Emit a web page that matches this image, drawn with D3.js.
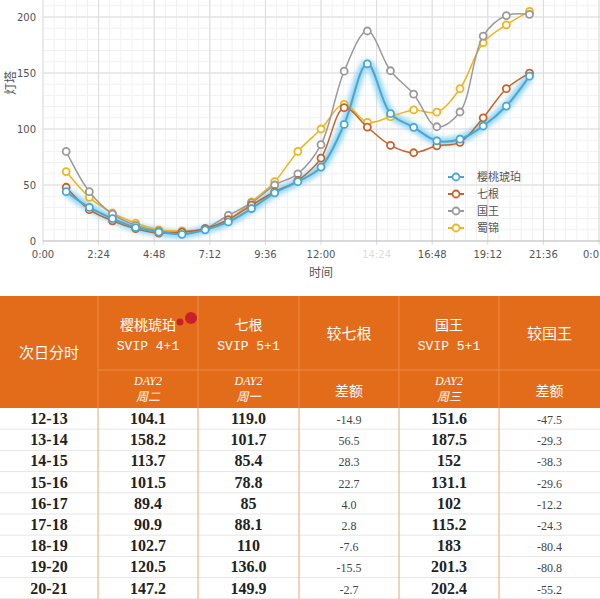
<!DOCTYPE html>
<html><head><meta charset="utf-8">
<script src="https://cdn.jsdelivr.net/npm/d3@7"></script>
<style>
body{margin:0;background:#fff;font-family:"Noto Sans CJK SC","DejaVu Sans",sans-serif}
</style></head>
<body><svg id="c" width="600" height="599"></svg>
<script>
const hours = d3.range(1, 22);
const cherry = [44,30,20,12,8,6,10,17,29,43,53,66,104.1,158.2,113.7,101.5,89.4,90.9,102.7,120.5,147.2];
const qigen  = [48,28,18,11,7,8,11,19,32,44,54,74,119,101.7,85.4,78.8,85,88.1,110,136,149.9];
const guowang= [80,44,24,14,9,8,11,23,34,50,60,86,151.6,187.5,152,131.1,102,115.2,183,201.3,202.4];
const shujin = [62,39,25,16,10,9,11,19,35,53,80,100,122,106,111,117,115,136,177,193,205];
const seriesNames = ['樱桃琥珀','七根','国王','蜀锦'];
const seriesColors = ['#4aa8d0','#c8622a','#9a9a9a','#f0b41c'];
const xTicks = ['0:00','2:24','4:48','7:12','9:36','12:00','14:24','16:48','19:12','21:36','0:0'];

const tableRows = ['12-13','13-14','14-15','15-16','16-17','17-18','18-19','19-20','20-21'];
const colCherry = ['104.1','158.2','113.7','101.5','89.4','90.9','102.7','120.5','147.2'];
const colQigen  = ['119.0','101.7','85.4','78.8','85','88.1','110','136.0','149.9'];
const colDiffQ  = ['-14.9','56.5','28.3','22.7','4.0','2.8','-7.6','-15.5','-2.7'];
const colGuowang= ['151.6','187.5','152','131.1','102','115.2','183','201.3','202.4'];
const colDiffG  = ['-47.5','-29.3','-38.3','-29.6','-12.2','-24.3','-80.4','-80.8','-55.2'];

const svg = d3.select('#c');
const x = d3.scaleLinear().domain([0, 24]).range([43, 599]);
const y = d3.scaleLinear().domain([0, 200]).range([241, 17]);

// 网格
const g = svg.append('g');
g.selectAll('.mx').data(d3.range(0, 24.01, 0.48)).join('line')
  .attr('x1', d => x(d)).attr('x2', d => x(d)).attr('y1', 0).attr('y2', 241)
  .attr('stroke', '#f1f1f1');
g.selectAll('.my').data(d3.range(0, 221, 10)).join('line')
  .attr('x1', 43).attr('x2', 600).attr('y1', d => y(d)).attr('y2', d => y(d))
  .attr('stroke', '#f1f1f1');
g.selectAll('.gx').data(d3.range(0, 24.01, 2.4)).join('line')
  .attr('x1', d => x(d)).attr('x2', d => x(d)).attr('y1', 0).attr('y2', 245)
  .attr('stroke', '#dcdcdc');
g.selectAll('.gy').data([50,100,150,200]).join('line')
  .attr('x1', 43).attr('x2', 600).attr('y1', d => y(d)).attr('y2', d => y(d))
  .attr('stroke', '#dcdcdc');
g.append('line').attr('x1', 43).attr('x2', 600).attr('y1', y(0)).attr('y2', y(0)).attr('stroke', '#bbb');

svg.selectAll('.yl').data([0,50,100,150,200]).join('text')
  .attr('x', 36).attr('y', d => y(d) + 4).attr('text-anchor', 'end')
  .attr('font-size', 10).attr('fill', '#555').attr('font-family', 'DejaVu Sans').text(d => d);
svg.selectAll('.xl').data(xTicks).join('text')
  .attr('x', (d, i) => i === 10 ? 599 : x(i * 2.4)).attr('y', 258)
  .attr('text-anchor', (d, i) => i === 10 ? 'end' : 'middle')
  .attr('font-size', 10).attr('fill', '#555').attr('font-family', 'DejaVu Sans').text(d => d)
  .filter((d, i) => i === 6).attr('fill', '#ddd');
svg.append('text').attr('x', 321).attr('y', 277).attr('text-anchor', 'middle')
  .attr('font-size', 12).attr('fill', '#555').text('时间');
svg.append('text').attr('transform', 'translate(15,83) rotate(-90)').attr('text-anchor', 'middle')
  .attr('font-size', 12).attr('fill', '#555').text('灯塔');

const defs = svg.append('defs');
defs.append('filter').attr('id', 'glow').append('feGaussianBlur').attr('stdDeviation', 2.5);

const line = d3.line().x((d, i) => x(hours[i])).y(d => y(d)).curve(d3.curveCatmullRom.alpha(0.5));
const all = [cherry, qigen, guowang, shujin];
svg.append('path').attr('d', line(cherry)).attr('fill', 'none')
  .attr('stroke', '#8fd3f5').attr('stroke-width', 8).attr('filter', 'url(#glow)');
[3, 2, 1, 0].forEach(k => {
  const s = svg.append('g');
  s.append('path').attr('d', line(all[k])).attr('fill', 'none')
    .attr('stroke', seriesColors[k]).attr('stroke-width', k === 0 ? 2 : 1.5);
  s.selectAll('circle').data(all[k]).join('circle')
    .attr('cx', (d, i) => x(hours[i])).attr('cy', d => y(d)).attr('r', 3.5)
    .attr('fill', '#fff').attr('stroke', seriesColors[k]).attr('stroke-width', 1.8);
});

// 图例
seriesNames.forEach((n, i) => {
  const ly = 177 + i * 17;
  svg.append('line').attr('x1', 448).attr('x2', 464).attr('y1', ly).attr('y2', ly)
    .attr('stroke', seriesColors[i]).attr('stroke-width', 2);
  svg.append('circle').attr('cx', 456).attr('cy', ly).attr('r', 3.5)
    .attr('fill', '#fff').attr('stroke', seriesColors[i]).attr('stroke-width', 1.8);
  svg.append('text').attr('x', 477).attr('y', ly + 4).attr('font-size', 11).attr('fill', '#555').text(n);
});

// 表格
const orange = '#e36c1b';
const colX = [0, 98, 198, 299, 399, 499, 600];
const tTop = 296, hMid = 370, hBot = 408, rowH = 21.2;
const tb = svg.append('g').attr('font-family', '"Noto Sans CJK SC",serif');
tb.append('rect').attr('x', 0).attr('y', tTop).attr('width', 600).attr('height', hBot - tTop).attr('fill', orange);
tb.append('line').attr('x1', 98).attr('x2', 600).attr('y1', hMid).attr('y2', hMid).attr('stroke', '#ee8a45');
colX.slice(1, 6).forEach(cx => tb.append('line').attr('x1', cx).attr('x2', cx).attr('y1', tTop).attr('y2', hBot).attr('stroke', '#ee8a45'));
const cmid = i => (colX[i] + colX[i + 1]) / 2;
const hdr = (i, yy, t, sz, st, ff) => tb.append('text').attr('x', cmid(i)).attr('y', yy).attr('text-anchor', 'middle')
  .attr('fill', '#fff').attr('font-size', sz).attr('font-style', st || 'normal')
  .attr('font-family', ff || null).text(t);
const mono = '"Liberation Mono","DejaVu Sans Mono",monospace';
hdr(0, 358, '次日分时', 15);
hdr(1, 330, '樱桃琥珀', 14); hdr(1, 350, 'SVIP 4+1', 13, null, mono);
hdr(2, 330, '七根', 14); hdr(2, 350, 'SVIP 5+1', 13, null, mono);
hdr(3, 339, '较七根', 15);
hdr(4, 330, '国王', 14); hdr(4, 350, 'SVIP 5+1', 13, null, mono);
hdr(5, 339, '较国王', 15);
[1, 2, 4].forEach(i => { hdr(i, 385, 'DAY2', 12, 'italic', '"Liberation Serif",serif'); });
hdr(1, 401, '周二', 12, 'italic'); hdr(2, 401, '周一', 12, 'italic'); hdr(4, 401, '周三', 12, 'italic');
hdr(3, 396, '差额', 14); hdr(5, 396, '差额', 14);
tb.append('circle').attr('cx', 191).attr('cy', 318).attr('r', 6).attr('fill', '#c8202a');
tb.append('circle').attr('cx', 180).attr('cy', 322).attr('r', 3.5).attr('fill', '#c8202a');

const cols = [tableRows, colCherry, colQigen, colDiffQ, colGuowang, colDiffG];
tableRows.forEach((r, j) => {
  const ry = hBot + j * rowH;
  tb.append('line').attr('x1', 0).attr('x2', 600).attr('y1', ry + rowH).attr('y2', ry + rowH).attr('stroke', '#e6e6e6');
  cols.forEach((c, i) => {
    const diff = i === 3 || i === 5;
    tb.append('text').attr('x', cmid(i)).attr('y', ry + 16).attr('text-anchor', 'middle')
      .attr('font-family', '"Liberation Serif","DejaVu Serif",serif')
      .attr('font-size', diff ? 12 : 16).attr('font-weight', diff ? 'normal' : 'bold')
      .attr('fill', diff ? '#444' : '#222').text(c[j]);
  });
});
colX.slice(1, 6).forEach(cx => tb.append('line').attr('x1', cx).attr('x2', cx).attr('y1', hBot).attr('y2', 599).attr('stroke', '#e0a878'));
</script></body></html>
